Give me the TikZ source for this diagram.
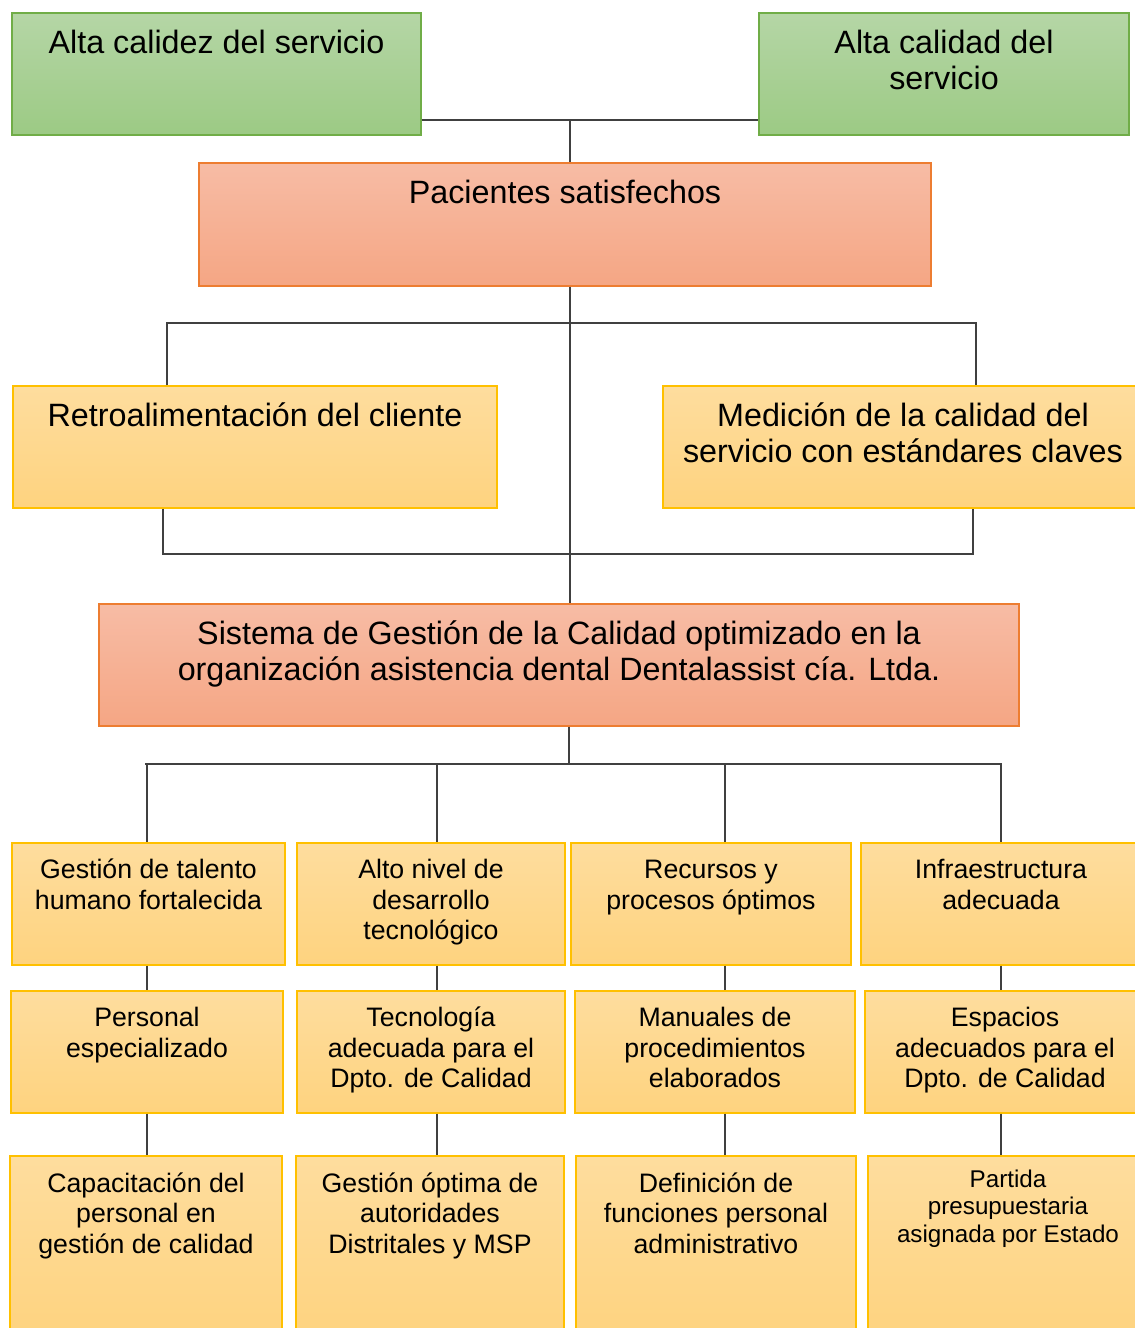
\documentclass[tikz,border=0pt]{standalone}
\usepackage{fontspec}
\setmainfont{Liberation Sans}
\usepackage{tikz}
\usepackage{xcolor}
\definecolor{gogreentop}{RGB}{181,214,166}
\definecolor{gogreenbot}{RGB}{156,202,132}
\definecolor{gogreenline}{RGB}{112,173,71}
\definecolor{gosalmontop}{RGB}{247,188,165}
\definecolor{gosalmonbot}{RGB}{245,166,132}
\definecolor{gosalmonline}{RGB}{237,125,49}
\definecolor{goyellowtop}{RGB}{254,221,158}
\definecolor{goyellowbot}{RGB}{254,211,127}
\definecolor{goyellowline}{RGB}{255,192,0}
\definecolor{golinegray}{RGB}{64,64,64}
\tikzstyle{box} = [rectangle, line width=1.2pt, inner sep=0pt]
\tikzstyle{endbox} = [box, draw=gogreenline, top color=gogreentop, bottom color=gogreenbot]
\tikzstyle{corebox} = [box, draw=gosalmonline, top color=gosalmontop, bottom color=gosalmonbot]
\tikzstyle{meanbox} = [box, draw=goyellowline, top color=goyellowtop, bottom color=goyellowbot]
% anchor=base sits on the last line of the text
\tikzstyle{bigtext} = [anchor=base, align=center, inner sep=0pt, font=\fontsize{32.3}{36.5}\selectfont]
\tikzstyle{midtext} = [anchor=base, align=center, inner sep=0pt, font=\fontsize{26.7}{30.5}\selectfont]
\tikzstyle{smalltext} = [anchor=base, align=center, inner sep=0pt, font=\fontsize{24.2}{27.5}\selectfont]
\tikzstyle{link} = [line width=1.3pt, color=golinegray]

\begin{document}
\begin{tikzpicture}[x=1pt, y=-1pt]
\useasboundingbox (0,0) rectangle (1135,1328);

% Fines
\node[endbox, minimum width=409pt, minimum height=122pt] (calidez) at (216.5,74) {};
\node[endbox, minimum width=370pt, minimum height=122pt] (calidad) at (944,74) {};
\node[bigtext] (calidez-t) at ([yshift=-41pt]calidez.north) {Alta calidez del servicio};
\node[bigtext] (calidad-t) at ([yshift=-77.5pt]calidad.north) {Alta calidad del\\servicio};

% Fin central
\node[corebox, minimum width=732pt, minimum height=123pt] (pacientes) at (565,224.5) {};
\node[bigtext] (pacientes-t) at ([yshift=-41pt]pacientes.north) {Pacientes satisfechos};

% Medios intermedios
\node[meanbox, minimum width=484pt, minimum height=122pt] (retro) at (255,447) {};
\node[meanbox, minimum width=480pt, minimum height=122pt] (medicion) at (903,447) {};
\node[bigtext] (retro-t) at ([yshift=-41pt]retro.north) {Retroalimentación del cliente};
\node[bigtext] (medicion-t) at ([yshift=-77.5pt]medicion.north) {Medición de la calidad del\\servicio con estándares claves};

% Objetivo central
\node[corebox, minimum width=920pt, minimum height=122pt] (sistema) at (559,665) {};
\node[bigtext] (sistema-t) at ([yshift=-77.5pt]sistema.north) {Sistema de Gestión de la Calidad optimizado en la\\organización asistencia dental Dentalassist cía. Ltda.};

% Medios, fila 1
\node[meanbox, minimum width=273pt, minimum height=122pt] (talento) at (148.5,904) {};
\node[meanbox, minimum width=268pt, minimum height=122pt] (nivel) at (431,904) {};
\node[meanbox, minimum width=280pt, minimum height=122pt] (recursos) at (711,904) {};
\node[meanbox, minimum width=280pt, minimum height=122pt] (infra) at (1001,904) {};
\node[midtext] (talento-t) at ([yshift=-67pt]talento.north) {Gestión de talento\\humano fortalecida};
\node[midtext] (nivel-t) at ([yshift=-97.5pt]nivel.north) {Alto nivel de\\desarrollo\\tecnológico};
\node[midtext] (recursos-t) at ([yshift=-67pt]recursos.north) {Recursos y\\procesos óptimos};
\node[midtext] (infra-t) at ([yshift=-67pt]infra.north) {Infraestructura\\adecuada};

% Medios, fila 2
\node[meanbox, minimum width=272pt, minimum height=122pt] (personal) at (147,1052) {};
\node[meanbox, minimum width=268pt, minimum height=122pt] (tecnologia) at (431,1052) {};
\node[meanbox, minimum width=280pt, minimum height=122pt] (manuales) at (715,1052) {};
\node[meanbox, minimum width=280pt, minimum height=122pt] (espacios) at (1005,1052) {};
\node[midtext] (personal-t) at ([yshift=-67pt]personal.north) {Personal\\especializado};
\node[midtext] (tecnologia-t) at ([yshift=-97.5pt]tecnologia.north) {Tecnología\\adecuada para el\\Dpto. de Calidad};
\node[midtext] (manuales-t) at ([yshift=-97.5pt]manuales.north) {Manuales de\\procedimientos\\elaborados};
\node[midtext] (espacios-t) at ([yshift=-97.5pt]espacios.north) {Espacios\\adecuados para el\\Dpto. de Calidad};

% Medios, fila 3
\node[meanbox, minimum width=272pt, minimum height=184pt] (capacitacion) at (146,1248) {};
\node[meanbox, minimum width=268pt, minimum height=184pt] (gestion) at (430,1248) {};
\node[meanbox, minimum width=280pt, minimum height=184pt] (funciones) at (716,1248) {};
\node[meanbox, minimum width=280pt, minimum height=184pt] (partida) at (1008,1248) {};
\node[midtext] (capacitacion-t) at ([yshift=-98pt]capacitacion.north) {Capacitación del\\personal en\\gestión de calidad};
\node[midtext] (gestion-t) at ([yshift=-98pt]gestion.north) {Gestión óptima de\\autoridades\\Distritales y MSP};
\node[midtext] (funciones-t) at ([yshift=-98pt]funciones.north) {Definición de\\funciones personal\\administrativo};
\node[smalltext] (partida-t) at ([yshift=-87pt]partida.north) {Partida\\presupuestaria\\asignada por Estado};

% Conectores superiores
\coordinate (topj) at (570,120);
\draw[link] (calidez.east |- topj) -- (calidad.west |- topj);
\draw[link] (topj) -- (topj |- pacientes.north);

% Conectores intermedios
\coordinate (spine) at (570,323);
\draw[link] (spine |- pacientes.south) -- (spine |- sistema.north);
\coordinate (upl) at (167,323);
\coordinate (upr) at (976,323);
\draw[link] (upl |- retro.north) -- (upl) -- (upr) -- (upr |- medicion.north);
\coordinate (dnl) at (163,554);
\coordinate (dnr) at (973,554);
\draw[link] (dnl |- retro.south) -- (dnl) -- (dnr) -- (dnr |- medicion.south);

% Conectores inferiores
\coordinate (fan) at (569,764);
\coordinate (fanl) at (145,764);
\coordinate (fanr) at (1002,764);
\draw[link] (fan |- sistema.south) -- (fan);
\draw[link] (fanl) -- (fanr);
\foreach \a/\b/\c/\x in {talento/personal/capacitacion/147, nivel/tecnologia/gestion/437,
    recursos/manuales/funciones/725, infra/espacios/partida/1001} {
  \coordinate (drop) at (\x,764);
  \draw[link] (drop) -- (drop |- \a.north);
  \draw[link] (drop |- \a.south) -- (drop |- \b.north);
  \draw[link] (drop |- \b.south) -- (drop |- \c.north);
}
\end{tikzpicture}
\end{document}
